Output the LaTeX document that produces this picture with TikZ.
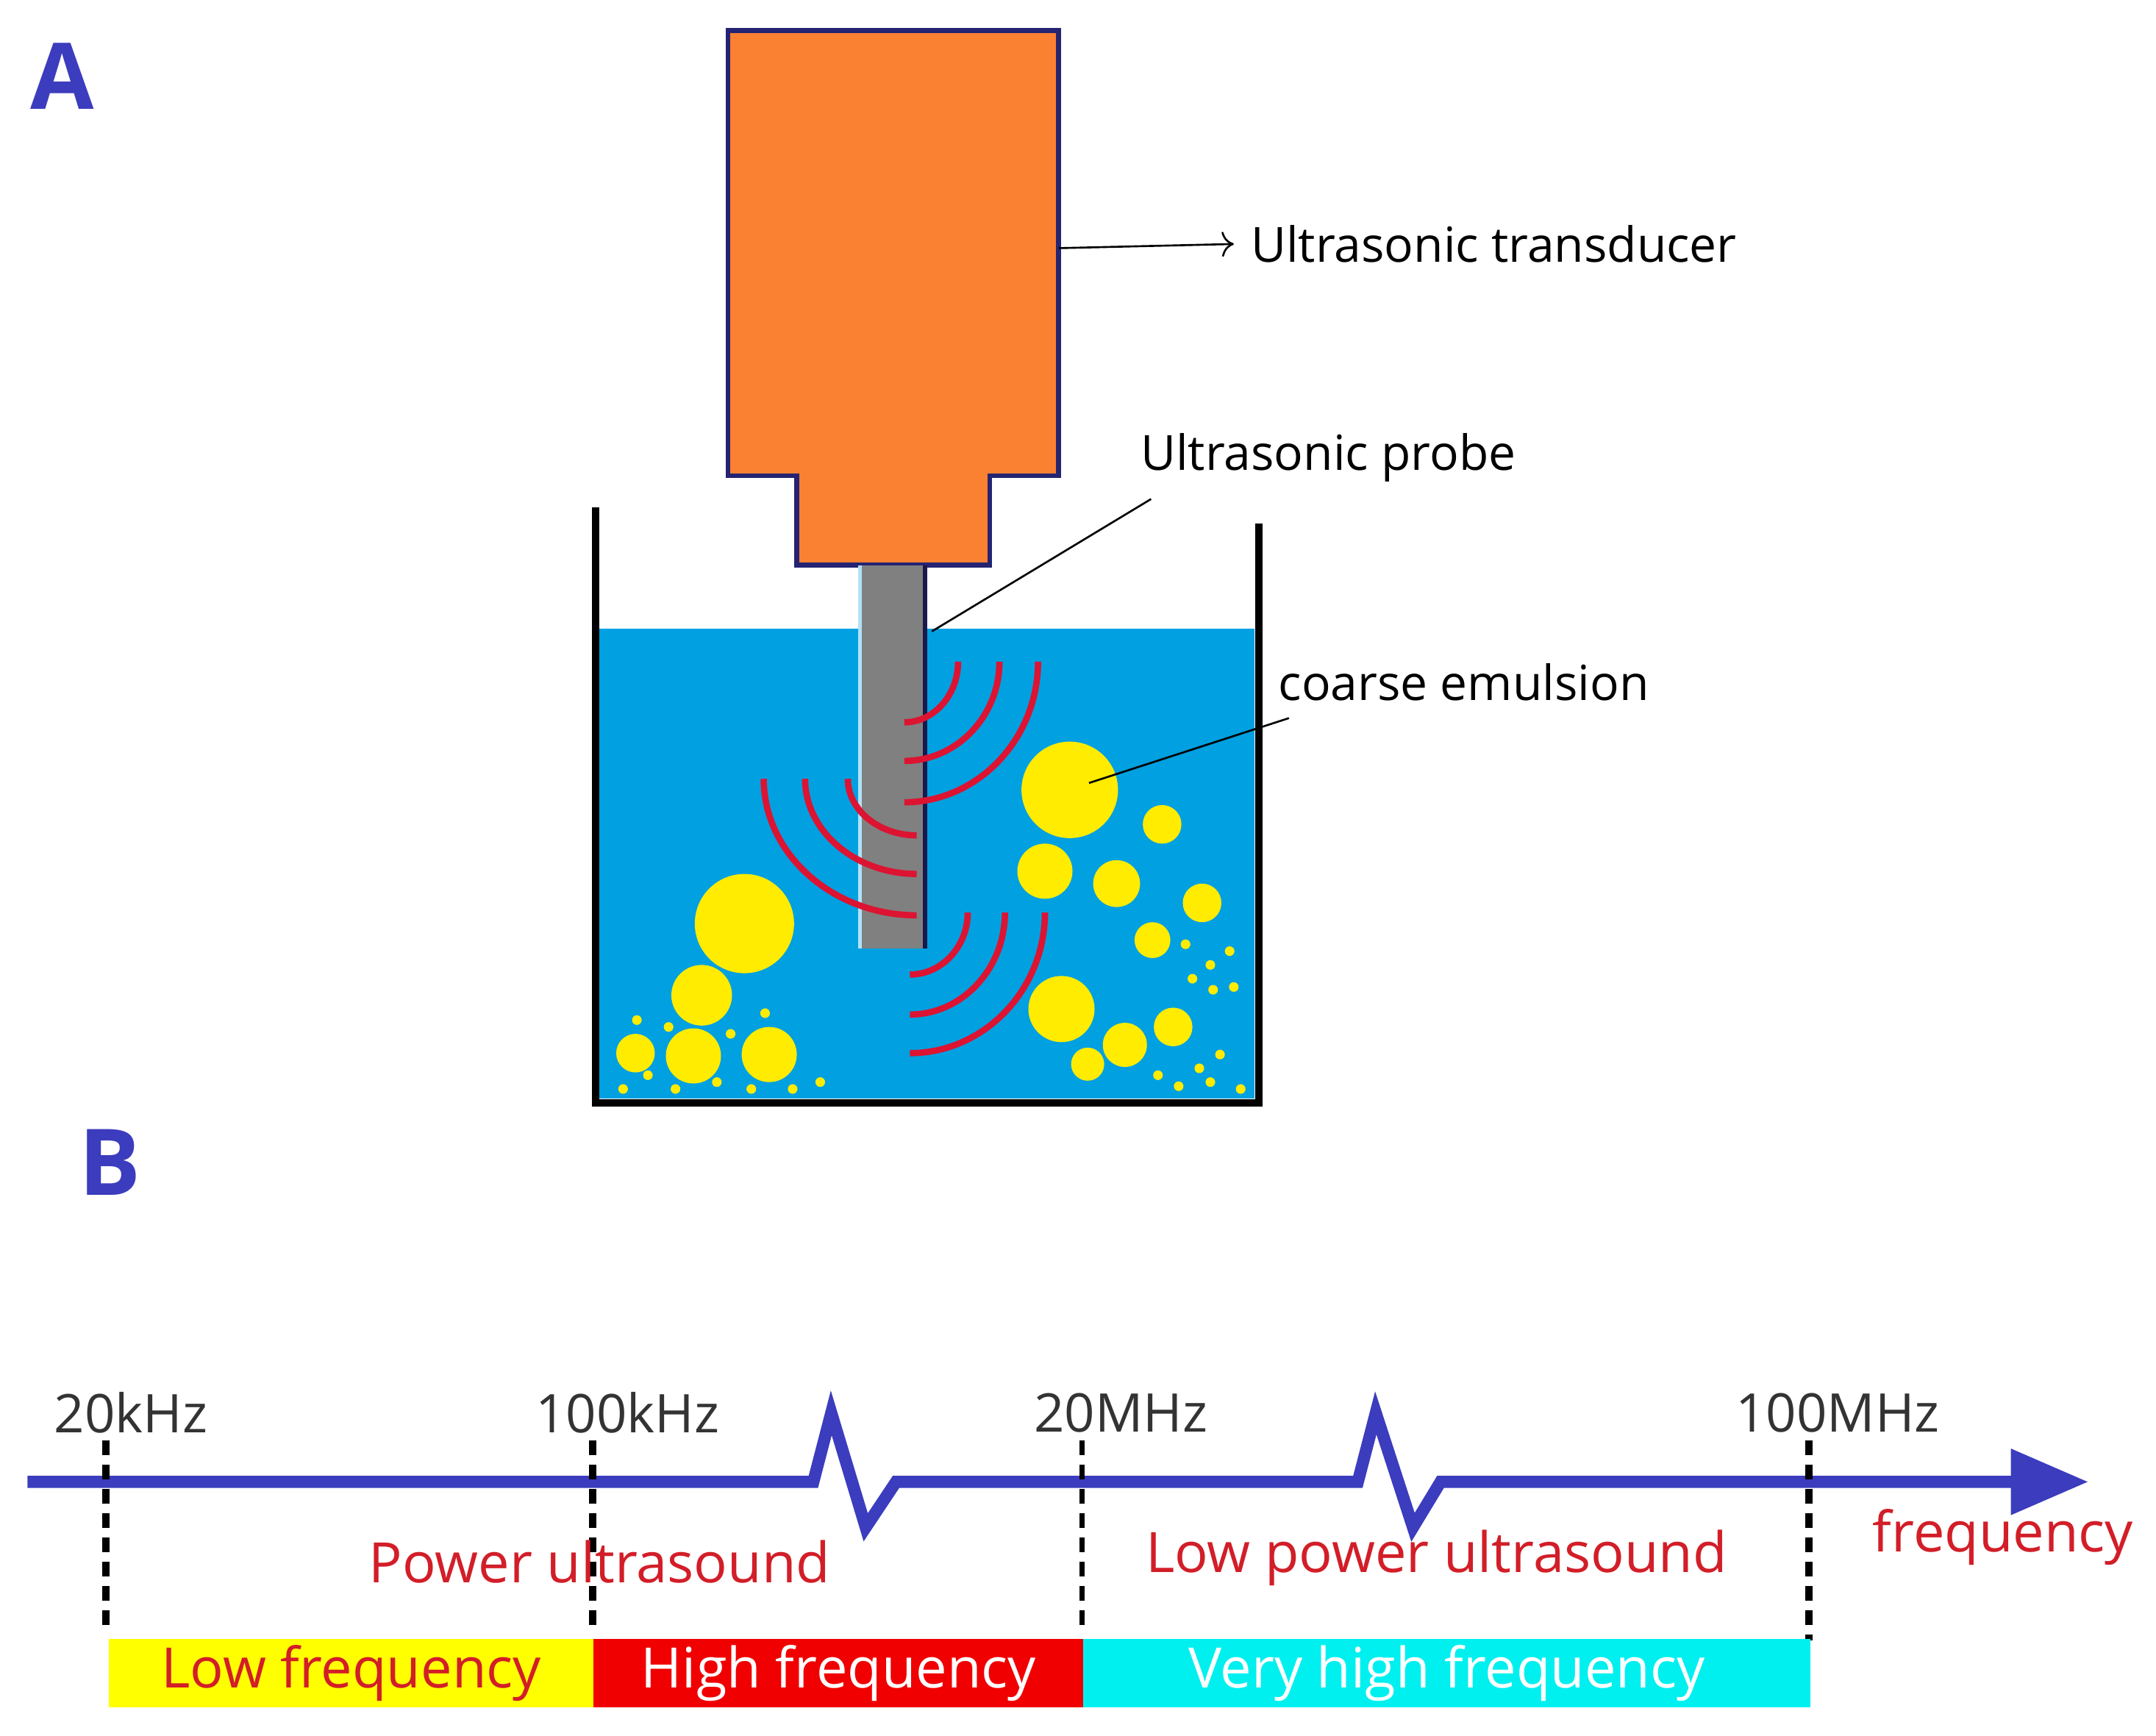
\documentclass[tikz,border=0pt]{standalone}
\usepackage{fontspec}
\setmainfont{Open Sans}
\usetikzlibrary{arrows.meta}
\definecolor{orng}{RGB}{250,128,50}
\definecolor{water}{RGB}{0,160,225}
\definecolor{axis}{RGB}{60,60,190}
\definecolor{wave}{RGB}{220,20,50}
\definecolor{bub}{RGB}{255,236,0}
\definecolor{lbl}{RGB}{210,30,40}
\definecolor{bandy}{RGB}{255,255,0}
\definecolor{bandr}{RGB}{240,0,0}
\definecolor{bandc}{RGB}{0,240,240}
\begin{document}
\begin{tikzpicture}[x=0.01cm,y=-0.01cm,
    tag/.style={font=\fontsize{19}{22}\selectfont\bfseries, text=axis},
    note/.style={font=\fontsize{10}{12}\selectfont, anchor=west},
    ticklbl/.style={font=\fontsize{11}{13}\selectfont, text=black!80},
    redlbl/.style={font=\fontsize{11.5}{14}\selectfont, text=lbl},
    band/.style={minimum height=0.5cm, inner sep=0, anchor=north west, font=\fontsize{11.5}{14}\selectfont},
    tick/.style={densely dashed, line width=1.5pt},
    arc/.style={wave, line width=1.3pt}]
\useasboundingbox (0,0) rectangle (1564,1259);
% part A
\node[tag] (A) at (45,55) {A};
\fill[water] (435,456) rectangle (910,797);
\draw[line width=1.5pt] (432,368) -- (432,800) -- (913,800) -- (913,380);
\draw[fill=orng, draw=axis!60!black, line width=1pt]
  (528,22) -- (768,22) -- (768,345) -- (718,345) -- (718,410) -- (578,410) -- (578,345) -- (528,345) -- cycle;
\fill[gray] (625,410) rectangle (672,688);
\draw[white!70!water, line width=0.8pt] (624,410) -- (624,688);
\draw[axis!40!black, line width=0.8pt] (671,410) -- (671,688);
% bubbles
\foreach \x/\y/\r in {776/573/35, 540/670/36, 509/722/22, 758/632/20, 810/641/17,
    843/598/14, 872/655/14, 836/682/13, 770/732/24, 503/766/20, 558/765/20,
    461/764/14, 816/758/16, 851/745/14, 789/772/12}
  \fill[bub] (\x,\y) circle (\r);
\foreach \x/\y in {452/790, 470/780, 485/745, 462/740, 490/790, 520/785, 530/750,
    545/790, 575/790, 595/785, 555/735, 860/685, 878/700, 892/690, 865/710, 880/718,
    895/716, 840/780, 855/788, 870/775, 885/765, 878/785, 900/790}
  \fill[bub] (\x,\y) circle (3.5);
% waves
\foreach \ex/\ty/\tx/\ey in {656/480/695/524, 656/480/725/552, 656/480/753/582,
    665/565/554/664, 665/565/584/634, 665/565/615/606,
    660/662/702/707, 660/662/729/736, 660/662/758/764}
  \draw[arc] (\ex,\ey) .. controls ({\ex+0.55*(\tx-\ex)},\ey) and (\tx,{\ty+0.55*(\ey-\ty)}) .. (\tx,\ty);
% labels
\node[note] (trans) at (895,177) {Ultrasonic transducer};
\draw[->] (768,180) -- (trans.west);
\node[note] (probe) at (815,332) {Ultrasonic probe};
\coordinate (ptip) at (676,458);
\draw (probe.south west) ++(20,0) -- (ptip);
\node[note] (emul) at (915,495) {coarse emulsion};
\coordinate (etip) at (790,568);
\draw (emul.south west) ++(20,0) -- (etip);
% part B
\node[tag] (B) at (80,843) {B};
\draw[axis, line width=2.5pt, -{Triangle[length=16pt, width=13pt]}]
  (20,1075) -- (590,1075) -- (603,1025) -- (628,1108) -- (650,1075)
  -- (985,1075) -- (998,1025) -- (1025,1108) -- (1045,1075) -- (1515,1075);
\draw[tick] (77,1045) -- (77,1185);
\draw[tick] (430,1045) -- (430,1185);
\draw[tick, line width=1pt] (785,1045) -- (785,1185);
\draw[tick] (1312,1045) -- (1312,1190);
\node[ticklbl] (f1) at (95,1025) {20kHz};
\node[ticklbl] (f2) at (455,1025) {100kHz};
\node[ticklbl] (f3) at (813,1025) {20MHz};
\node[ticklbl] (f4) at (1333,1025) {100MHz};
\node[redlbl] (freq) at (1453,1115) {frequency};
\node[redlbl] (pow) at (435,1133) {Power ultrasound};
\node[redlbl] (lowpow) at (1042,1130) {Low power ultrasound};
\node[band, fill=bandy, text=lbl, minimum width=3.52cm] (lowf) at (78,1188) {Low frequency};
\node[band, fill=bandr, text=white, minimum width=3.55cm] (highf) at (430,1188) {High frequency};
\node[band, fill=bandc, text=white, minimum width=5.27cm] (vhighf) at (785,1188) {Very high frequency};
\end{tikzpicture}
\end{document}
